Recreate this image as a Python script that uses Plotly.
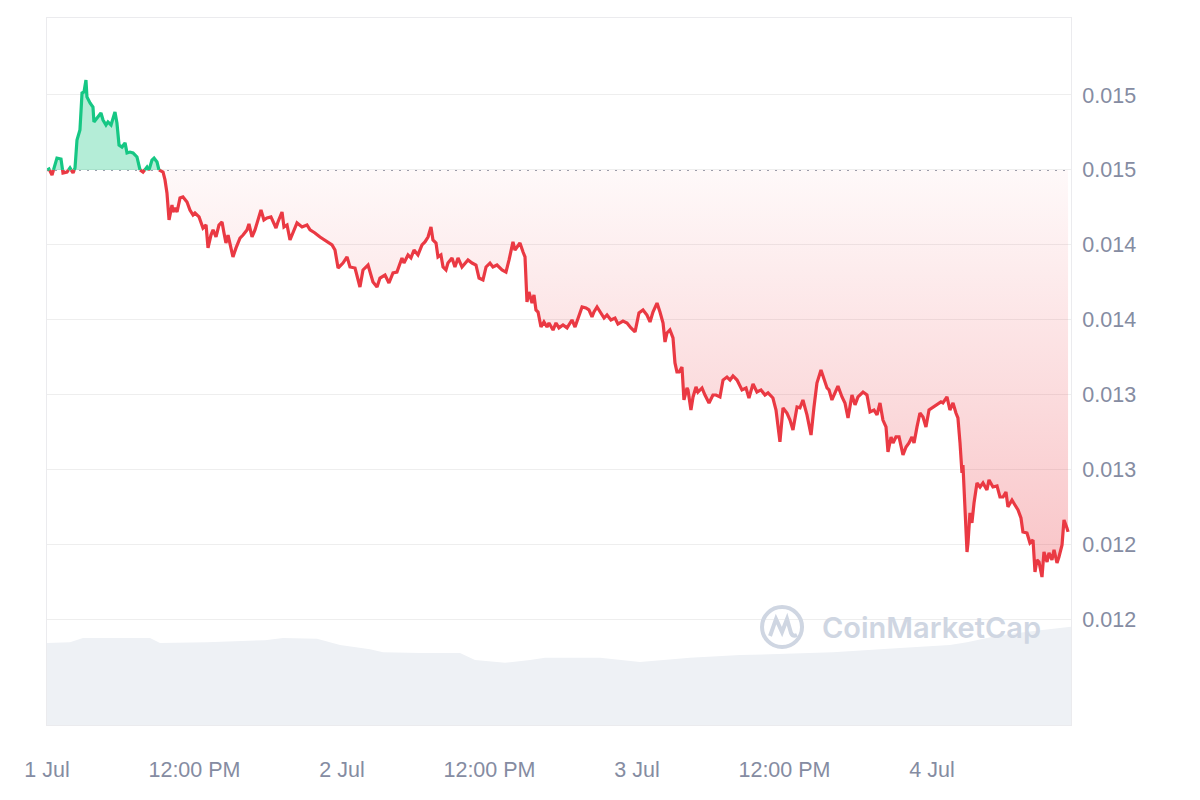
import numpy as np
import pandas as pd
import plotly.graph_objects as go

# ---------------- data ----------------
start = pd.Timestamp("2024-07-01 00:00")
open_price = 0.015

hours = [0.00, 0.16, 0.41, 0.81, 1.14, 1.30, 1.63, 1.87, 2.12, 2.28, 2.44, 2.68, 2.85, 3.01, 3.17, 3.25,
         3.50, 3.74, 3.82, 4.07, 4.39, 4.56, 4.80, 4.96, 5.21, 5.53, 5.69, 5.86, 6.10, 6.35, 6.51, 6.75,
         7.00, 7.32, 7.57, 7.81, 8.14, 8.30, 8.54, 8.71, 8.95, 9.11, 9.44, 9.60, 9.76, 9.93, 10.17, 10.25,
         10.41, 10.58, 10.82, 11.06, 11.39, 11.63, 11.88, 12.04, 12.37, 12.69, 12.94, 13.10, 13.34, 13.51,
         13.75, 13.99, 14.24, 14.40, 14.56, 14.73, 14.97, 15.13, 15.38, 15.70, 15.95, 16.27, 16.43, 16.68,
         16.92, 17.17, 17.41, 17.65, 17.90, 18.22, 18.39, 18.63, 18.79, 19.12, 19.28, 19.53, 19.77, 20.01,
         20.34, 20.75, 21.15, 21.40, 21.80, 22.21, 22.62, 23.19, 23.43, 23.68, 24.08, 24.41, 24.65, 25.06,
         25.46, 25.71, 26.12, 26.52, 26.85, 27.09, 27.50, 27.82, 28.15, 28.47, 28.88, 29.04, 29.37, 29.61,
         29.86, 30.18, 30.51, 30.75, 31.00, 31.24, 31.40, 31.65, 31.81, 32.05, 32.22, 32.46, 32.62, 32.95,
         33.19, 33.44, 33.76, 34.01, 34.25, 34.58, 34.90, 35.15, 35.47, 35.72, 36.04, 36.28, 36.61, 37.02,
         37.34, 37.59, 37.91, 38.07, 38.24, 38.48, 38.73, 38.89, 39.05, 39.21, 39.46, 39.62, 39.78, 39.95,
         40.19, 40.43, 40.68, 40.84, 41.17, 41.41, 41.65, 41.98, 42.31, 42.71, 42.96, 43.20, 43.53, 43.85,
         44.09, 44.34, 44.50, 44.75, 45.07, 45.32, 45.56, 45.88, 46.21, 46.45, 46.86, 47.19, 47.51, 47.84,
         48.16, 48.49, 48.81, 49.06, 49.30, 49.63, 49.87, 50.12, 50.28, 50.44, 50.68, 50.93, 51.09, 51.25,
         51.42, 51.66, 51.82, 52.07, 52.15, 52.39, 52.56, 52.80, 52.96, 53.29, 53.53, 53.86, 54.18, 54.43,
         54.75, 55.00, 55.32, 55.57, 55.81, 56.14, 56.54, 56.87, 57.11, 57.44, 57.76, 58.09, 58.41, 58.66,
         59.06, 59.31, 59.63, 59.88, 60.20, 60.45, 60.69, 61.02, 61.26, 61.50, 61.83, 62.16, 62.40, 62.64,
         62.97, 63.21, 63.46, 63.62, 63.86, 64.11, 64.35, 64.68, 64.92, 65.17, 65.49, 65.74, 65.98, 66.39,
         66.71, 66.96, 67.28, 67.53, 67.77, 68.01, 68.26, 68.42, 68.67, 68.83, 69.07, 69.32, 69.64, 69.89,
         70.13, 70.37, 70.54, 70.78, 71.02, 71.27, 71.51, 71.76, 72.08, 72.41, 72.73, 72.89, 73.22, 73.46,
         73.71, 73.95, 74.11, 74.28, 74.44, 74.52, 74.69, 74.85, 74.93, 75.09, 75.25, 75.42, 75.66, 75.91,
         76.15, 76.47, 76.64, 76.96, 77.29, 77.53, 77.78, 78.02, 78.18, 78.51, 78.75, 79.00, 79.24, 79.40,
         79.73, 79.97, 80.22, 80.38, 80.54, 80.71, 80.95, 81.11, 81.36, 81.52, 81.76, 81.93, 82.17, 82.33,
         82.58, 82.74, 82.98, 83.07]

price = [0.014999, 0.015006, 0.014966, 0.015079, 0.015073, 0.014979, 0.014986, 0.015013, 0.014979, 0.015013,
         0.015200, 0.015266, 0.015513, 0.015520, 0.015600, 0.015487, 0.015447, 0.015420, 0.015320, 0.015346,
         0.015380, 0.015333, 0.015300, 0.015320, 0.015300, 0.015387, 0.015313, 0.015166, 0.015153, 0.015180,
         0.015113, 0.015119, 0.015113, 0.015086, 0.014999, 0.014986, 0.015019, 0.014999, 0.015066, 0.015079,
         0.015053, 0.014999, 0.014986, 0.014933, 0.014846, 0.014666, 0.014766, 0.014719, 0.014746, 0.014719,
         0.014812, 0.014819, 0.014786, 0.014732, 0.014699, 0.014712, 0.014686, 0.014612, 0.014632, 0.014479,
         0.014565, 0.014599, 0.014552, 0.014632, 0.014652, 0.014579, 0.014512, 0.014565, 0.014485, 0.014419,
         0.014479, 0.014545, 0.014565, 0.014599, 0.014639, 0.014552, 0.014599, 0.014666, 0.014732, 0.014666,
         0.014679, 0.014686, 0.014652, 0.014612, 0.014652, 0.014719, 0.014619, 0.014632, 0.014532, 0.014579,
         0.014646, 0.014619, 0.014632, 0.014599, 0.014579, 0.014552, 0.014532, 0.014499, 0.014465, 0.014345,
         0.014378, 0.014419, 0.014352, 0.014345, 0.014218, 0.014332, 0.014365, 0.014252, 0.014218, 0.014278,
         0.014298, 0.014245, 0.014312, 0.014318, 0.014412, 0.014378, 0.014432, 0.014412, 0.014465, 0.014432,
         0.014499, 0.014519, 0.014552, 0.014619, 0.014532, 0.014512, 0.014419, 0.014432, 0.014352, 0.014332,
         0.014378, 0.014412, 0.014352, 0.014412, 0.014352, 0.014378, 0.014399, 0.014378, 0.014365, 0.014278,
         0.014265, 0.014352, 0.014378, 0.014352, 0.014365, 0.014332, 0.014318, 0.014399, 0.014519, 0.014465,
         0.014485, 0.014512, 0.014452, 0.014419, 0.014118, 0.014185, 0.014111, 0.014165, 0.014065, 0.014051,
         0.013951, 0.013985, 0.013951, 0.013978, 0.013931, 0.013978, 0.013945, 0.013965, 0.013945, 0.013998,
         0.013951, 0.014011, 0.014085, 0.014078, 0.014065, 0.014018, 0.014051, 0.014085, 0.014045, 0.014011,
         0.014031, 0.013998, 0.014011, 0.013971, 0.013991, 0.013978, 0.013945, 0.013918, 0.014045, 0.014065,
         0.014031, 0.013985, 0.014051, 0.014111, 0.014051, 0.013978, 0.013851, 0.013911, 0.013931, 0.013878,
         0.013711, 0.013651, 0.013651, 0.013684, 0.013464, 0.013544, 0.013531, 0.013397, 0.013484, 0.013551,
         0.013517, 0.013544, 0.013497, 0.013444, 0.013497, 0.013497, 0.013484, 0.013597, 0.013617, 0.013597,
         0.013624, 0.013597, 0.013531, 0.013544, 0.013477, 0.013571, 0.013517, 0.013531, 0.013497, 0.013511,
         0.013477, 0.013397, 0.013184, 0.013411, 0.013377, 0.013330, 0.013264, 0.013417, 0.013411, 0.013464,
         0.013364, 0.013230, 0.013417, 0.013577, 0.013664, 0.013597, 0.013544, 0.013531, 0.013464, 0.013511,
         0.013557, 0.013484, 0.013444, 0.013344, 0.013497, 0.013431, 0.013484, 0.013517, 0.013497, 0.013384,
         0.013397, 0.013364, 0.013444, 0.013330, 0.013284, 0.013117, 0.013217, 0.013177, 0.013217, 0.013217,
         0.013097, 0.013150, 0.013177, 0.013217, 0.013177, 0.013284, 0.013377, 0.013350, 0.013284, 0.013397,
         0.013417, 0.013431, 0.013451, 0.013444, 0.013484, 0.013397, 0.013444, 0.013377, 0.013344, 0.013177,
         0.012977, 0.013030, 0.012710, 0.012449, 0.012509, 0.012710, 0.012643, 0.012776, 0.012910, 0.012883,
         0.012910, 0.012863, 0.012930, 0.012883, 0.012890, 0.012816, 0.012816, 0.012850, 0.012750, 0.012796,
         0.012763, 0.012730, 0.012676, 0.012583, 0.012576, 0.012509, 0.012529, 0.012316, 0.012396, 0.012382,
         0.012282, 0.012449, 0.012382, 0.012443, 0.012396, 0.012463, 0.012376, 0.012416, 0.012496, 0.012663,
         0.012609, 0.012583]

vol_hours = [0.00, 1.87, 2.93, 8.38, 9.19, 13.02, 17.74, 19.20, 21.97, 23.84, 26.28, 27.34, 30.35, 33.60,
             34.82, 37.26, 39.30, 40.52, 44.99, 48.24, 52.31, 56.38, 58.82, 63.95, 69.40, 73.46, 74.85,
             77.53, 80.79, 83.31]
volume = [1.16, 1.17, 1.23, 1.23, 1.16, 1.17, 1.20, 1.23, 1.22, 1.13, 1.07, 1.03, 1.02, 1.02,
          0.92, 0.88, 0.92, 0.95, 0.95, 0.89, 0.95, 0.99, 1.00, 1.03, 1.09, 1.13, 1.17,
          1.27, 1.34, 1.39]

x_tick_hours = [0, 12, 24, 36, 48, 60, 72]
x_tick_text = ["1 Jul", "12:00 PM", "2 Jul", "12:00 PM", "3 Jul", "12:00 PM", "4 Jul"]
y_tick_vals = [0.012, 0.0125, 0.013, 0.0135, 0.014, 0.0145, 0.015, 0.0155]
y_tick_text = ["0.012", "0.012", "0.013", "0.013", "0.014", "0.014", "0.015", "0.015"]

x_end_hours = 83.31
y_range = [0.011294, 0.016014]

GREEN = "#16c784"
RED = "#ea3943"
WM = "#cfd6e2"

# ------------- split series at the opening-price line -------------
h_aug, p_aug = [hours[0]], [price[0]]
for i in range(1, len(hours)):
    h0, p0, h1, p1 = hours[i - 1], price[i - 1], hours[i], price[i]
    if (p0 - open_price) * (p1 - open_price) < 0:
        f = (open_price - p0) / (p1 - p0)
        h_aug.append(h0 + f * (h1 - h0))
        p_aug.append(open_price)
    h_aug.append(h1)
    p_aug.append(p1)
p_aug = np.array(p_aug)
t_aug = start + pd.to_timedelta(h_aug, unit="h")

above = np.maximum(p_aug, open_price)
below = np.minimum(p_aug, open_price)
green_line = np.where(p_aug >= open_price, p_aug, np.nan)
red_line = np.where(p_aug <= open_price, p_aug, np.nan)
base_line = np.full(len(p_aug), open_price)

t_vol = start + pd.to_timedelta(vol_hours, unit="h")

fig = go.Figure()
fig.add_trace(go.Scatter(x=t_vol, y=volume, yaxis="y2", mode="lines", fill="tozeroy",
                         fillcolor="#eef1f5", line=dict(width=0), hoverinfo="skip"))
fig.add_trace(go.Scatter(x=t_aug, y=base_line, mode="lines", line=dict(width=0), hoverinfo="skip"))
fig.add_trace(go.Scatter(x=t_aug, y=above, mode="lines", fill="tonexty",
                         fillcolor="rgba(22,199,132,0.32)", line=dict(width=0), hoverinfo="skip"))
fig.add_trace(go.Scatter(x=t_aug, y=base_line, mode="lines", line=dict(width=0), hoverinfo="skip"))
fig.add_trace(go.Scatter(x=t_aug, y=below, mode="lines", fill="tonexty",
                         fillgradient=dict(type="vertical",
                                           colorscale=[[0, "rgba(234,57,67,0.30)"],
                                                       [1, "rgba(234,57,67,0.03)"]]),
                         line=dict(width=0), hoverinfo="skip"))
fig.add_trace(go.Scatter(x=t_aug, y=red_line, mode="lines", line=dict(color=RED, width=3.2),
                         connectgaps=False))
fig.add_trace(go.Scatter(x=t_aug, y=green_line, mode="lines", line=dict(color=GREEN, width=3.2),
                         connectgaps=False))

fig.add_hline(y=open_price, line=dict(color="#9aa0ad", width=2, dash="2px,6px"), layer="below")

# watermark
fig.add_shape(type="circle", xref="paper", yref="paper", xsizemode="pixel", ysizemode="pixel",
              xanchor=0.7178, yanchor=0.1386, x0=-20, x1=20, y0=-20, y1=20,
              line=dict(color=WM, width=4))
fig.add_shape(type="path", xref="paper", yref="paper", xsizemode="pixel", ysizemode="pixel",
              xanchor=0.7178, yanchor=0.1386,
              path="M -12,-9 L -6,8 L 0,-5 L 5,8 L 9,-6 Q 11,-10 15,-8",
              line=dict(color=WM, width=4))
fig.add_annotation(text="CoinMarketCap", xref="paper", yref="paper", x=0.8633, y=0.1372,
                   xanchor="center", yanchor="middle",
                   showarrow=False, font=dict(family="Inter", size=29, color=WM, weight=600))

fig.update_layout(
    width=1200, height=800,
    margin=dict(l=39, r=137, t=10, b=83),
    plot_bgcolor="white", paper_bgcolor="white",
    showlegend=False,
    font=dict(family="Liberation Sans, Arial, sans-serif", size=21.5, color="#858ca2"),
    xaxis=dict(type="date",
               range=[start, start + pd.Timedelta(hours=x_end_hours)],
               tickvals=[start + pd.Timedelta(hours=h) for h in x_tick_hours],
               ticktext=x_tick_text, showgrid=False, zeroline=False,
               showline=True, mirror=True, linecolor="#ebebee", linewidth=1,
               ticks="", ticklabelstandoff=25),
    yaxis=dict(side="right", range=y_range, tickvals=y_tick_vals, ticktext=y_tick_text,
               showgrid=True, gridcolor="#eeeeee", gridwidth=1, zeroline=False,
               showline=True, mirror=True, linecolor="#ebebee", linewidth=1,
               ticks="", ticklabelstandoff=6),
    yaxis2=dict(overlaying="y", range=[0, 10], visible=False),
)

fig.write_html("out.html")
